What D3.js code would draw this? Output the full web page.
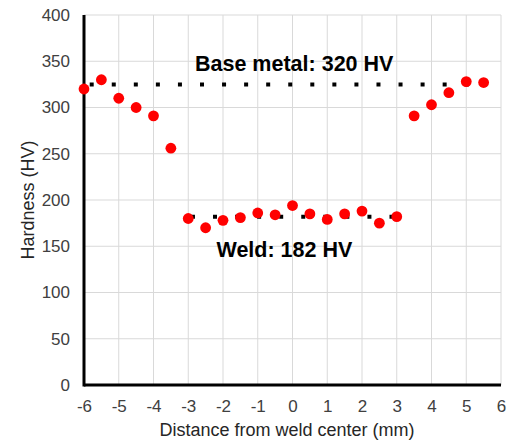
<!DOCTYPE html>
<html>
<head>
<meta charset="utf-8">
<script src="https://cdn.jsdelivr.net/npm/d3@7"></script>
<style>
  body { margin: 0; background: #fff; }
  svg { font-family: "Liberation Sans", Arial, sans-serif; display: block; }
</style>
</head>
<body>
<svg width="509" height="441"></svg>
<script>
// Measured hardness values
const distance = [-6, -5.5, -5, -4.5, -4, -3.5, -3, -2.5, -2, -1.5, -1, -0.5, 0,
                  0.5, 1, 1.5, 2, 2.5, 3, 3.5, 4, 4.5, 5, 5.5];
const hardness = [320, 330, 310, 300, 291, 256, 180, 170, 178, 181, 186, 184, 194,
                  185, 179, 185, 188, 175, 182, 291, 303, 316, 328, 327];

// Average reference lines
const baseLine = { x: [-6, 5.5], y: 325, label: 'Base metal: 320 HV' };
const weldLine = { x: [-3, 3], y: 182, label: 'Weld: 182 HV' };

const xTicks = d3.range(-6, 7, 1);
const yTicks = d3.range(0, 401, 50);

const width = 509;
const height = 441;
const margin = { top: 15, right: 8, bottom: 56, left: 84 };
const innerWidth = width - margin.left - margin.right;
const innerHeight = height - margin.top - margin.bottom;

const svg = d3.select('svg');
const g = svg.append('g')
    .attr('transform', `translate(${margin.left},${margin.top})`);

const xScale = d3.scaleLinear().domain([-6, 6]).range([0, innerWidth]);
const yScale = d3.scaleLinear().domain([0, 400]).range([innerHeight, 0]);

// Gridlines
g.append('g')
    .selectAll('line')
    .data(xTicks)
    .join('line')
    .attr('x1', d => xScale(d)).attr('x2', d => xScale(d))
    .attr('y1', 0).attr('y2', innerHeight)
    .attr('stroke', '#d9d9d9').attr('stroke-width', 1);

g.append('g')
    .selectAll('line')
    .data(yTicks)
    .join('line')
    .attr('x1', 0).attr('x2', innerWidth)
    .attr('y1', d => yScale(d)).attr('y2', d => yScale(d))
    .attr('stroke', '#d9d9d9').attr('stroke-width', 1);

// Axes (plain hyphen for negatives, like the original)
const xAxis = d3.axisBottom(xScale).tickValues(xTicks).tickFormat(d => String(d))
    .tickSize(0).tickPadding(15);
const yAxis = d3.axisLeft(yScale).tickValues(yTicks).tickFormat(d => String(d))
    .tickSize(0).tickPadding(14);

const xAxisG = g.append('g').attr('transform', `translate(0,${innerHeight})`).call(xAxis);
const yAxisG = g.append('g').call(yAxis);

[xAxisG, yAxisG].forEach(a => {
    a.select('.domain').remove();
    a.attr('font-size', null).attr('font-family', null);
    a.selectAll('text')
        .attr('font-size', 17)
        .attr('fill', '#404040');
});

g.append('line')
    .attr('x1', 0).attr('x2', innerWidth)
    .attr('y1', innerHeight).attr('y2', innerHeight)
    .attr('stroke', '#000').attr('stroke-width', 3);
g.append('line')
    .attr('x1', 0).attr('x2', 0)
    .attr('y1', 0).attr('y2', innerHeight + 1.5)
    .attr('stroke', '#000').attr('stroke-width', 3);

// Dotted average lines (square dots)
function dottedLine(line, firstDot) {
    const period = 22.06;
    g.append('line')
        .attr('x1', xScale(line.x[0])).attr('x2', xScale(line.x[1]))
        .attr('y1', yScale(line.y)).attr('y2', yScale(line.y))
        .attr('stroke', '#000')
        .attr('stroke-width', 4)
        .attr('stroke-dasharray', `4,${period - 4}`)
        .attr('stroke-dashoffset', period - firstDot);
}
dottedLine(baseLine, 5.7);
dottedLine(weldLine, 2.7);

// Data points
g.selectAll('circle')
    .data(distance.map((d, i) => ({ x: d, y: hardness[i] })))
    .join('circle')
    .attr('cx', d => xScale(d.x))
    .attr('cy', d => yScale(d.y))
    .attr('r', 5.4)
    .attr('fill', '#ff0000');

// Annotations
g.append('text')
    .attr('x', 111).attr('y', 56)
    .attr('font-size', 21.5).attr('font-weight', 'bold')
    .attr('fill', '#000')
    .text(baseLine.label);

g.append('text')
    .attr('x', 132.5).attr('y', 242)
    .attr('font-size', 21.5).attr('font-weight', 'bold')
    .attr('fill', '#000')
    .text(weldLine.label);

// Axis titles
svg.append('text')
    .attr('x', 287)
    .attr('y', 436)
    .attr('text-anchor', 'middle')
    .attr('font-size', 18)
    .attr('fill', '#262626')
    .text('Distance from weld center (mm)');

svg.append('text')
    .attr('transform', `translate(34,${margin.top + innerHeight / 2}) rotate(-90)`)
    .attr('text-anchor', 'middle')
    .attr('font-size', 18)
    .attr('fill', '#262626')
    .text('Hardness (HV)');
</script>
</body>
</html>
